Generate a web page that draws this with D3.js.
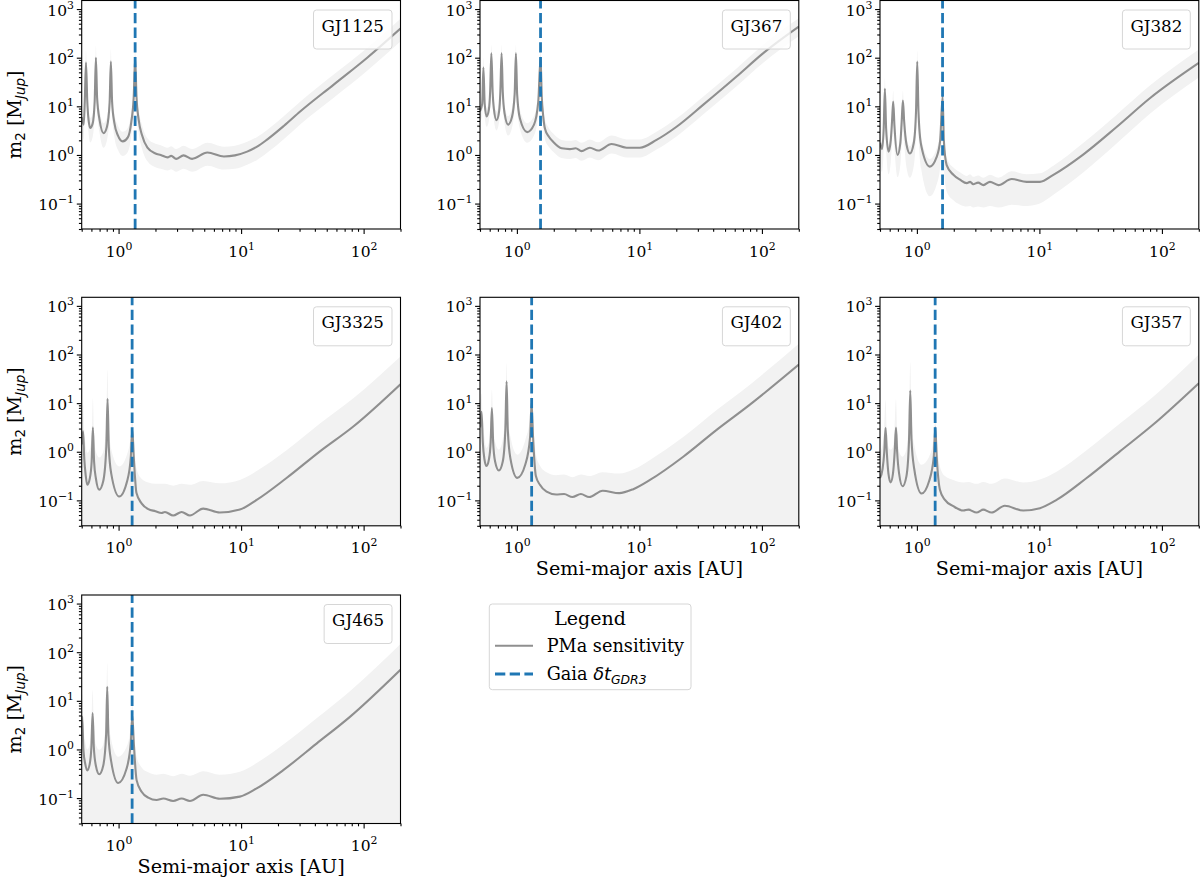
<!DOCTYPE html>
<html>
<head>
<meta charset="utf-8">
<script src="https://d3js.org/d3.v7.min.js"></script>
<style>
  body { margin: 0; background: #fff; }
  text { font-family: "DejaVu Serif", serif; fill: #000; }
  .math { font-family: "DejaVu Sans", sans-serif; }
</style>
</head>
<body>
<svg id="chart" width="1200" height="879"></svg>
<script>
// ---- data ----
var stars  = ["GJ1125", "GJ367", "GJ382", "GJ3325", "GJ402", "GJ357", "GJ465"];
// semi-major axis matching the Gaia DR3 time window (AU)
var gaiaDt = [1.365, 1.56, 1.62, 1.29, 1.32, 1.41, 1.29];

// rows: [a (AU), m2 (MJup), band low, band high]
var gj1125 = [
  [0.50, 6.0, 3.2, 10], [0.519, 4.2, 2.1, 6.9], [0.530, 13, 7.1, 22], [0.542, 79, 25, 141],
  [0.555, 13, 7.1, 22], [0.569, 5.2, 2.8, 8.3], [0.587, 3.6, 1.8, 5.8], [0.614, 4.4, 2.3, 6.9],
  [0.638, 12.6, 6.6, 21], [0.653, 100, 32, 178], [0.668, 15, 7.9, 25], [0.700, 5.2, 2.8, 8.3],
  [0.755, 2.8, 1.4, 4.5], [0.804, 3.8, 2.0, 6.0], [0.845, 12, 6.3, 20], [0.865, 83, 25, 151],
  [0.885, 12.6, 6.6, 21], [0.923, 4.6, 2.4, 7.2], [0.989, 2.5, 1.26, 4.0], [1.08, 1.9, 0.95, 3.0],
  [1.19, 2.3, 1.15, 3.6], [1.27, 4.8, 2.5, 7.6], [1.33, 16, 7.9, 26], [1.365, 100, 32, 178],
  [1.40, 16, 7.9, 26], [1.46, 5.2, 2.8, 8.3], [1.55, 2.6, 1.38, 4.2], [1.72, 1.41, 0.74, 2.2],
  [2.0, 1.07, 0.56, 1.7], [2.21, 1.0, 0.52, 1.58], [2.51, 0.89, 0.48, 1.41], [2.69, 0.955, 0.51, 1.51],
  [2.95, 0.83, 0.45, 1.32], [3.39, 0.98, 0.52, 1.55], [3.98, 0.83, 0.45, 1.32], [5.31, 1.12, 0.60, 1.78],
  [7.24, 0.93, 0.50, 1.48], [8.91, 0.98, 0.52, 1.55], [11.2, 1.17, 0.63, 1.86], [13.5, 1.48, 0.79, 2.34],
  [16.3, 2.07, 1.11, 3.27], [22.4, 3.98, 2.14, 6.3], [30.5, 7.9, 4.3, 12.6], [57.0, 28, 15, 45],
  [107, 100, 54, 158], [200, 398, 214, 631]
];
var gj367 = [
  [0.50, 7.9, 4.8, 12], [0.521, 11.2, 6.3, 17.8], [0.533, 63, 25, 100], [0.546, 11.2, 6.3, 17.8],
  [0.566, 6.2, 3.8, 9.3], [0.592, 8.9, 5.2, 13.5], [0.605, 20, 11.2, 32], [0.619, 123, 40, 182],
  [0.634, 20, 11.2, 32], [0.649, 8.9, 5.2, 13.5], [0.682, 5.2, 3.2, 7.9], [0.716, 7.9, 4.8, 12],
  [0.733, 20, 11.2, 32], [0.750, 123, 40, 182], [0.767, 20, 11.2, 32], [0.794, 7.1, 4.3, 10.7],
  [0.849, 4.2, 2.5, 6.3], [0.912, 6.0, 3.6, 9.1], [0.959, 17.8, 10, 28], [0.982, 123, 40, 182],
  [1.005, 17.8, 10, 28], [1.059, 5.6, 3.4, 8.5], [1.213, 2.95, 1.78, 4.5], [1.38, 4.2, 2.5, 6.3],
  [1.496, 12.6, 7.1, 20], [1.56, 100, 32, 158], [1.596, 15.8, 8.9, 25], [1.64, 6.3, 3.8, 9.5],
  [1.694, 3.5, 2.1, 5.4], [1.82, 2.4, 1.48, 3.6], [1.98, 1.86, 1.17, 2.75], [2.32, 1.37, 0.87, 2.04],
  [2.71, 1.32, 0.83, 1.95], [3.02, 1.37, 0.87, 2.04], [3.37, 1.2, 0.76, 1.78], [3.94, 1.41, 0.89, 2.09],
  [4.61, 1.23, 0.78, 1.82], [5.93, 1.68, 1.07, 2.5], [7.85, 1.41, 0.89, 2.09], [10.1, 1.41, 0.89, 2.09],
  [13.8, 2.04, 1.29, 3.0], [20.1, 3.8, 2.4, 5.6], [33.1, 10.7, 6.8, 15.8], [62.1, 41, 26, 60],
  [102, 123, 78, 182], [200, 437, 275, 646]
];
var gj382 = [
  [0.50, 1.78, 0.63, 2.5], [0.519, 1.32, 0.45, 1.86], [0.536, 3.5, 1.26, 5.2], [0.548, 23, 6.3, 38],
  [0.561, 3.5, 1.26, 5.2], [0.587, 1.17, 0.40, 1.66], [0.612, 2.0, 0.71, 2.8], [0.627, 5.0, 1.78, 7.4],
  [0.641, 12.6, 4.0, 21], [0.656, 4.0, 1.41, 5.9], [0.695, 1.0, 0.35, 1.41], [0.733, 1.78, 0.63, 2.5],
  [0.752, 5.0, 1.78, 7.4], [0.769, 13.2, 4.0, 21], [0.787, 5.0, 1.78, 7.4], [0.822, 1.66, 0.56, 2.3],
  [0.877, 1.07, 0.34, 1.51], [0.944, 1.78, 0.60, 2.5], [0.984, 7.9, 2.8, 12.6], [1.007, 83, 20, 141],
  [1.03, 7.9, 2.8, 12.6], [1.084, 1.58, 0.52, 2.24], [1.276, 0.575, 0.141, 0.83], [1.445, 0.89, 0.24, 1.32],
  [1.549, 2.0, 0.56, 3.16], [1.622, 15.8, 4.0, 25], [1.66, 2.0, 0.56, 3.16], [1.75, 0.62, 0.178, 0.89],
  [1.986, 0.39, 0.117, 0.55], [2.25, 0.31, 0.095, 0.44], [2.55, 0.263, 0.087, 0.37], [2.72, 0.28, 0.089, 0.40],
  [2.88, 0.25, 0.083, 0.355], [3.16, 0.27, 0.087, 0.38], [3.49, 0.24, 0.083, 0.34], [3.95, 0.28, 0.089, 0.39],
  [4.62, 0.24, 0.083, 0.34], [5.94, 0.32, 0.095, 0.46], [7.87, 0.28, 0.089, 0.40], [10.1, 0.28, 0.10, 0.42],
  [13.0, 0.39, 0.151, 0.60], [22.9, 1.03, 0.44, 1.78], [42.9, 3.8, 1.74, 6.8], [80.2, 14.8, 7.1, 27],
  [200, 78, 39, 148]
];
var gj3325 = [
  [0.50, 1.41, 0.01, 5.6], [0.513, 2.63, 0.01, 10], [0.525, 0.71, 0.01, 2.8], [0.540, 0.316, 0.01, 1.26],
  [0.555, 0.209, 0.01, 0.955], [0.582, 0.282, 0.01, 1.12], [0.603, 0.63, 0.01, 2.24], [0.617, 3.16, 0.01, 12.6],
  [0.631, 0.63, 0.01, 2.24], [0.653, 0.282, 0.01, 1.0], [0.695, 0.166, 0.01, 0.76], [0.75, 0.251, 0.01, 1.0],
  [0.794, 1.26, 0.01, 4.0], [0.813, 12.3, 0.01, 49], [0.832, 1.26, 0.01, 4.0], [0.871, 0.355, 0.01, 1.12],
  [1.012, 0.12, 0.01, 0.5], [1.175, 0.251, 0.01, 0.89], [1.259, 0.79, 0.01, 2.24], [1.294, 2.82, 0.01, 6.3],
  [1.33, 0.79, 0.01, 2.0], [1.40, 0.141, 0.01, 0.447], [1.54, 0.087, 0.01, 0.28], [1.75, 0.066, 0.01, 0.234],
  [2.0, 0.060, 0.01, 0.219], [2.24, 0.055, 0.01, 0.219], [2.39, 0.0575, 0.01, 0.219], [2.79, 0.049, 0.01, 0.20],
  [3.27, 0.0575, 0.01, 0.219], [3.82, 0.049, 0.01, 0.209], [4.9, 0.0676, 0.01, 0.251], [6.71, 0.0562, 0.01, 0.224],
  [9.77, 0.0646, 0.01, 0.263], [13.4, 0.102, 0.01, 0.40], [23.5, 0.288, 0.01, 1.07], [44, 1.02, 0.01, 3.8],
  [82.4, 3.31, 0.01, 12.6], [200, 24.5, 0.01, 91]
];
var gj402 = [
  [0.50, 3.16, 0.01, 10], [0.515, 6.6, 0.01, 15.8], [0.527, 1.58, 0.01, 5.0], [0.543, 0.71, 0.01, 2.0],
  [0.565, 0.51, 0.01, 1.2], [0.592, 0.71, 0.01, 1.58], [0.611, 1.58, 0.01, 4.0], [0.625, 7.9, 0.01, 19],
  [0.640, 1.58, 0.01, 4.0], [0.664, 0.63, 0.01, 1.58], [0.713, 0.41, 0.01, 1.1], [0.767, 0.63, 0.01, 1.78],
  [0.805, 2.82, 0.01, 7.1], [0.824, 28, 0.01, 66], [0.843, 2.82, 0.01, 7.1], [0.887, 0.71, 0.01, 2.0],
  [1.007, 0.29, 0.01, 0.87], [1.175, 0.56, 0.01, 1.78], [1.282, 2.0, 0.01, 5.0], [1.318, 10, 0.01, 15.8],
  [1.355, 2.0, 0.01, 4.5], [1.429, 0.316, 0.01, 0.89], [1.542, 0.209, 0.01, 0.52], [1.746, 0.151, 0.01, 0.38],
  [2.09, 0.132, 0.01, 0.33], [2.43, 0.135, 0.01, 0.34], [2.84, 0.117, 0.01, 0.30], [3.33, 0.135, 0.01, 0.34],
  [3.89, 0.117, 0.01, 0.316], [5.01, 0.158, 0.01, 0.38], [6.84, 0.141, 0.01, 0.355], [8.91, 0.17, 0.01, 0.43],
  [12.2, 0.263, 0.01, 0.68], [22.8, 0.79, 0.01, 2.0], [42.7, 2.82, 0.01, 7.2], [79.8, 9.3, 0.01, 24],
  [200, 62, 0.01, 166]
];
var gj357 = [
  [0.50, 0.288, 0.01, 1.0], [0.525, 0.447, 0.01, 1.41], [0.542, 1.0, 0.01, 3.16], [0.555, 3.09, 0.01, 11.7],
  [0.568, 1.0, 0.01, 3.16], [0.586, 0.355, 0.01, 1.26], [0.61, 0.234, 0.01, 1.1], [0.638, 0.355, 0.01, 1.26],
  [0.659, 1.0, 0.01, 3.16], [0.675, 3.16, 0.01, 12], [0.69, 1.0, 0.01, 3.16], [0.716, 0.355, 0.01, 1.0],
  [0.764, 0.195, 0.01, 0.79], [0.822, 0.316, 0.01, 1.12], [0.863, 1.78, 0.01, 5.6], [0.883, 18.2, 0.01, 69],
  [0.904, 1.78, 0.01, 5.6], [0.951, 0.447, 0.01, 1.41], [1.091, 0.138, 0.01, 0.54], [1.259, 0.251, 0.01, 0.79],
  [1.374, 0.79, 0.01, 2.0], [1.413, 3.16, 0.01, 5.0], [1.452, 0.79, 0.01, 1.78], [1.542, 0.166, 0.01, 0.5],
  [1.694, 0.102, 0.01, 0.316], [1.982, 0.0759, 0.01, 0.263], [2.388, 0.0617, 0.01, 0.234], [2.63, 0.0646, 0.01, 0.24],
  [3.07, 0.0562, 0.01, 0.219], [3.48, 0.0646, 0.01, 0.24], [4.07, 0.0562, 0.01, 0.219], [5.22, 0.0776, 0.01, 0.282],
  [7.38, 0.0617, 0.01, 0.234], [10.1, 0.0692, 0.01, 0.269], [13.8, 0.102, 0.01, 0.389], [24.3, 0.288, 0.01, 1.07],
  [45.4, 1.02, 0.01, 3.8], [84.9, 3.63, 0.01, 13.5], [200, 25.7, 0.01, 100]
];
var gj465 = [
  [0.50, 2.24, 0.01, 7.9], [0.505, 4.68, 0.01, 14.1], [0.516, 1.0, 0.01, 3.16], [0.535, 0.5, 0.01, 1.41],
  [0.555, 0.372, 0.01, 1.0], [0.581, 0.5, 0.01, 1.26], [0.60, 1.12, 0.01, 4.0], [0.614, 5.6, 0.01, 16.6],
  [0.628, 1.12, 0.01, 4.0], [0.652, 0.468, 0.01, 1.26], [0.695, 0.309, 0.01, 0.98], [0.75, 0.468, 0.01, 1.26],
  [0.791, 2.0, 0.01, 5.6], [0.808, 19.5, 0.01, 59], [0.826, 2.0, 0.01, 5.6], [0.871, 0.56, 0.01, 1.58],
  [0.993, 0.204, 0.01, 0.71], [1.161, 0.40, 0.01, 1.12], [1.259, 1.41, 0.01, 3.16], [1.294, 5.0, 0.01, 8.9],
  [1.33, 1.41, 0.01, 2.82], [1.403, 0.234, 0.01, 0.71], [1.542, 0.135, 0.01, 0.427], [1.746, 0.102, 0.01, 0.339],
  [2.04, 0.0912, 0.01, 0.302], [2.32, 0.0977, 0.01, 0.316], [2.79, 0.0871, 0.01, 0.282], [3.27, 0.0977, 0.01, 0.316],
  [3.82, 0.0871, 0.01, 0.288], [4.91, 0.117, 0.01, 0.355], [6.71, 0.0966, 0.01, 0.302], [9.77, 0.107, 0.01, 0.347],
  [13.4, 0.158, 0.01, 0.525], [22.1, 0.376, 0.01, 1.26], [41.3, 1.32, 0.01, 4.37], [77.3, 4.68, 0.01, 15.8],
  [200, 43.6, 0.01, 148]
];
var curves = [gj1125, gj367, gj382, gj3325, gj402, gj357, gj465];

var xTicksMajor = [1, 10, 100];
var yTicksMajor = [0.1, 1, 10, 100, 1000];
var legendLabels = ["PMa sensitivity", "Gaia"];

// ---- layout ----
var W = 318.8, H = 228.5;
var colX = [81.7, 480, 880];
var rowY = [0.5, 297.3, 595];
var grey = "#8f8f8f", bandCol = "#f2f2f2", blue = "#1f77b4";
var tickFont = 15.5, supFont = 10.9, labelFont = 19.2;

var svg = d3.select("#chart");

function expLabel(d) {
  var e = Math.round(Math.log10(d));
  return e < 0 ? "\u2212" + (-e) : "" + e;
}

stars.forEach(function(name, i) {
  var col = i % 3, row = Math.floor(i / 3);
  var g = svg.append("g").attr("transform", "translate(" + colX[col] + "," + rowY[row] + ")");

  var x = d3.scaleLog().domain([0.5, 200]).range([0, W]);
  var y = d3.scaleLog().domain([0.03, 1500]).range([H, 0]);

  g.append("clipPath").attr("id", "clip" + i)
    .append("rect").attr("width", W).attr("height", H);
  var plot = g.append("g").attr("clip-path", "url(#clip" + i + ")");
  var data = curves[i];

  var area = d3.area()
    .x(function(d) { return x(d[0]); })
    .y0(function(d) { return y(d[2]); })
    .y1(function(d) { return y(d[3]); })
    .curve(d3.curveMonotoneX);
  var line = d3.line()
    .x(function(d) { return x(d[0]); })
    .y(function(d) { return y(d[1]); })
    .curve(d3.curveMonotoneX);

  plot.append("path").datum(data).attr("fill", bandCol).attr("d", area);
  plot.append("path").datum(data)
    .attr("fill", "none").attr("stroke", grey).attr("stroke-width", 2.1)
    .attr("stroke-linejoin", "round").attr("d", line);

  plot.append("line")
    .attr("x1", x(gaiaDt[i])).attr("x2", x(gaiaDt[i]))
    .attr("y1", H).attr("y2", 0)
    .attr("stroke", blue).attr("stroke-width", 2.8)
    .attr("stroke-dasharray", "10.3,4.4");

  // axes: minor ticks then labelled majors
  var xMinor = x.ticks().filter(function(t) { return xTicksMajor.indexOf(t) < 0; });
  var yMinor = y.ticks().filter(function(t) { return yTicksMajor.indexOf(t) < 0; });

  var axes = [
    g.append("g").attr("transform", "translate(0," + H + ")")
      .call(d3.axisBottom(x).tickValues(xMinor).tickSize(2.8).tickFormat("")),
    g.append("g")
      .call(d3.axisLeft(y).tickValues(yMinor).tickSize(2.8).tickFormat(""))
  ];

  var xa = g.append("g").attr("transform", "translate(0," + H + ")")
    .call(d3.axisBottom(x).tickValues(xTicksMajor).tickSize(4.9).tickFormat(function() { return "10"; }));
  xa.selectAll("text").attr("y", 27.5).attr("dy", null).attr("font-size", tickFont)
    .append("tspan").attr("dy", -7).attr("font-size", supFont).text(expLabel);

  var ya = g.append("g")
    .call(d3.axisLeft(y).tickValues(yTicksMajor).tickSize(4.9).tickFormat(function() { return "10"; }));
  ya.selectAll("text").attr("x", -7.7).attr("y", 6).attr("dy", null).attr("font-size", tickFont)
    .append("tspan").attr("dy", -7).attr("font-size", supFont).text(expLabel);

  axes.push(xa, ya);
  axes.forEach(function(a) {
    a.attr("font-family", null).attr("font-size", null);
    a.select(".domain").remove();
    a.selectAll("line").attr("stroke", "#000").attr("stroke-width", 1.1);
  });

  g.append("rect").attr("width", W).attr("height", H)
    .attr("fill", "none").attr("stroke", "#000").attr("stroke-width", 1.1);

  // star name box
  var tag = g.append("g");
  var txt = tag.append("text").attr("font-size", 16.7).attr("text-anchor", "middle").text(name);
  var tw = txt.node().getComputedTextLength();
  var bw = tw + 16;
  tag.insert("rect", "text")
    .attr("x", W - 8.5 - bw).attr("y", 9.5).attr("width", bw).attr("height", 39)
    .attr("rx", 3).attr("fill", "#fff").attr("fill-opacity", 0.8)
    .attr("stroke", "#d6d6d6").attr("stroke-width", 1);
  txt.attr("x", W - 8.5 - bw / 2).attr("y", 31.2);

  if (col === 0) {
    var yl = g.append("text")
      .attr("transform", "translate(-60.5," + (H / 2) + ") rotate(-90)")
      .attr("text-anchor", "middle").attr("font-size", labelFont);
    yl.append("tspan").text("m");
    yl.append("tspan").attr("class", "math").attr("font-size", 13.4).attr("dy", 4).text("2");
    yl.append("tspan").attr("dy", -4).text(" [M");
    yl.append("tspan").attr("class", "math").attr("font-style", "italic")
      .attr("font-size", 13.4).attr("dy", 4).text("Jup");
    yl.append("tspan").attr("dy", -4).text("]");
  }
  if (i >= 4) {
    g.append("text").attr("x", W / 2).attr("y", H + 49.5)
      .attr("text-anchor", "middle").attr("font-size", labelFont)
      .text("Semi-major axis [AU]");
  }
});

// ---- shared legend in the empty slot ----
var lg = svg.append("g").attr("transform", "translate(" + colX[1] + "," + rowY[2] + ")");
lg.append("rect").attr("x", 9.3).attr("y", 9).attr("width", 201.7).attr("height", 85.7)
  .attr("rx", 3).attr("fill", "#fff").attr("stroke", "#d6d6d6").attr("stroke-width", 1);
lg.append("text").attr("x", 110).attr("y", 29.7).attr("text-anchor", "middle")
  .attr("font-size", 19).text("Legend");
lg.append("line").attr("x1", 15).attr("x2", 53).attr("y1", 50.7).attr("y2", 50.7)
  .attr("stroke", grey).attr("stroke-width", 2.1);
lg.append("text").attr("x", 66.7).attr("y", 57.3).attr("font-size", 17.7).text(legendLabels[0]);
lg.append("line").attr("x1", 15).attr("x2", 53).attr("y1", 79).attr("y2", 79)
  .attr("stroke", blue).attr("stroke-width", 2.8).attr("stroke-dasharray", "10.3,4.4");
var gt = lg.append("text").attr("x", 66.7).attr("y", 84.7).attr("font-size", 17.7);
gt.append("tspan").text(legendLabels[1] + " ");
gt.append("tspan").attr("class", "math").attr("font-style", "italic").text("\u03b4t");
gt.append("tspan").attr("class", "math").attr("font-style", "italic")
  .attr("font-size", 12.4).attr("dy", 3.8).text("GDR3");
</script>
</body>
</html>
